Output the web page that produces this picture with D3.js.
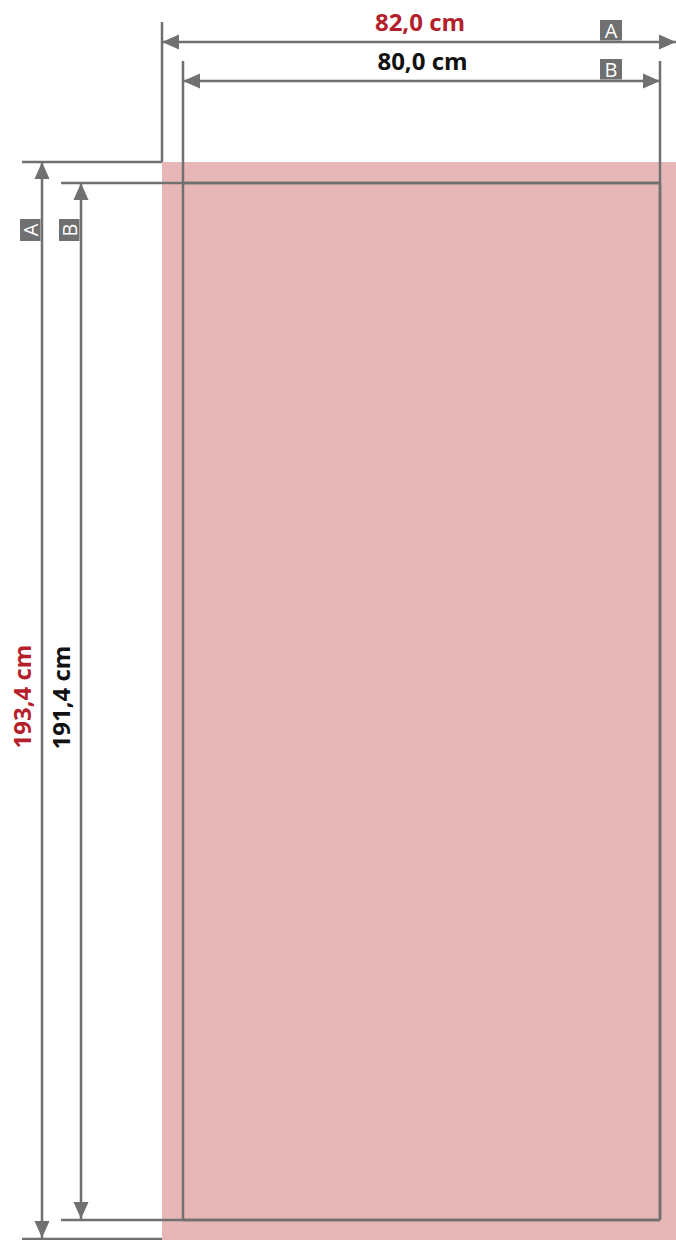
<!DOCTYPE html>
<html><head><meta charset="utf-8">
<script src="https://cdn.jsdelivr.net/npm/d3@7"></script>
<style>html,body{margin:0;padding:0;background:#fff;}svg{display:block;}</style>
</head><body><div id="chart"></div>
<script>
// Data
const badgeLabels = ["A", "B"];
const widthValues = [82.0, 80.0];      // cm
const heightValues = [193.4, 191.4];   // cm
const widthLabels = ["82,0 cm", "80,0 cm"];
const heightLabels = ["193,4 cm", "191,4 cm"];
const labelColors = ["#b51f2b", "#111111"];
const innerWidth = 80.0, innerHeight = 191.4;

const W = 676, H = 1240;
const gray = "#707070", pink = "#e7b7b7";

// Schematic (not-to-scale) scales: cm → px
const x = d3.scaleLinear().domain([-1, 0, innerWidth, innerWidth + 1]).range([162, 183, 660, 676]);
const y = d3.scaleLinear().domain([-1, 0, innerHeight, innerHeight + 1]).range([162, 183, 1220, 1239]);
// positions of dimension lines
const dimY = d3.scalePoint().domain(badgeLabels).range([42, 81]);
const dimX = d3.scalePoint().domain(badgeLabels).range([42, 81]);

const svg = d3.select("#chart").append("svg").attr("width", W).attr("height", H);
const font = "'Open Sans', 'Noto Sans', sans-serif";

// Pink panel (outer size A)
const ow = (widthValues[0] - innerWidth) / 2, oh = (heightValues[0] - innerHeight) / 2;
svg.append("rect")
  .attr("x", x(-ow)).attr("y", y(-oh))
  .attr("width", x(innerWidth + ow) - x(-ow))
  .attr("height", H - y(-oh))
  .attr("fill", pink);

const line = (x1, y1, x2, y2, sw = 2.5) => svg.append("line")
  .attr("x1", x1).attr("y1", y1).attr("x2", x2).attr("y2", y2)
  .attr("stroke", gray).attr("stroke-width", sw);

const arrow = (tx, ty, dir) => {
  const L = 17, h = 7.5;
  let pts;
  if (dir === "l") pts = [[tx, ty], [tx + L, ty - h], [tx + L, ty + h]];
  if (dir === "r") pts = [[tx, ty], [tx - L, ty - h], [tx - L, ty + h]];
  if (dir === "u") pts = [[tx, ty], [tx - h, ty + L], [tx + h, ty + L]];
  if (dir === "d") pts = [[tx, ty], [tx - h, ty - L], [tx + h, ty - L]];
  svg.append("polygon").attr("points", pts.map(p => p.join(",")).join(" ")).attr("fill", gray);
};

// Horizontal dimensions
badgeLabels.forEach((k, i) => {
  const m = (widthValues[i] - innerWidth) / 2;
  const x0 = x(-m), x1 = x(innerWidth + m), yy = dimY(k);
  line(x0, yy - 20, x0, m > 0 ? y(-oh) : y(innerHeight));
  if (m === 0) line(x1, yy - 20, x1, y(innerHeight));
  line(x0, yy, x1, yy);
  arrow(x0, yy, "l"); arrow(x1, yy, "r");
  svg.append("text").attr("x", (x0 + x1) / 2 + 1).attr("y", yy - 11.5)
    .attr("text-anchor", "middle").attr("font-family", font).attr("font-weight", 700)
    .attr("font-size", 24).attr("fill", labelColors[i]).text(widthLabels[i]);
  svg.append("rect").attr("x", 600).attr("y", yy - 22).attr("width", 22).attr("height", 20.5).attr("fill", gray);
  svg.append("text").attr("x", 611).attr("y", yy - 4.5).attr("text-anchor", "middle")
    .attr("font-family", font).attr("font-size", 20).attr("fill", "#fff").text(k);
});

// Vertical dimensions
badgeLabels.forEach((k, i) => {
  const m = (heightValues[i] - innerHeight) / 2;
  const y0 = y(-m), y1 = y(innerHeight + m), xx = dimX(k);
  const extEnd = m > 0 ? x(-ow) : x(innerWidth);
  line(xx - 20, y0, extEnd, y0);
  line(xx - 20, y1, extEnd, y1);
  line(xx, y0, xx, y1);
  arrow(xx, y0, "u"); arrow(xx, y1 - 1, "d");
  const cy = (y0 + y1) / 2 - 4;
  svg.append("text").attr("transform", `translate(${xx - 11},${cy}) rotate(-90)`)
    .attr("text-anchor", "middle").attr("font-family", font).attr("font-weight", 700)
    .attr("font-size", 24).attr("fill", labelColors[i]).text(heightLabels[i]);
  const bx = xx - 22, by = 219;
  svg.append("rect").attr("x", bx).attr("y", by).attr("width", 20.5).attr("height", 22).attr("fill", gray);
  svg.append("text").attr("transform", `translate(${xx - 4.5},${by + 11}) rotate(-90)`)
    .attr("text-anchor", "middle").attr("font-family", font).attr("font-size", 20).attr("fill", "#fff").text(k);
});

// inner rectangle edges (size B)
line(x(0), y(innerHeight), x(innerWidth), y(innerHeight));
line(x(innerWidth), y(0), x(innerWidth), y(innerHeight));
line(x(0), y(0), x(innerWidth), y(0));
</script></body></html>
